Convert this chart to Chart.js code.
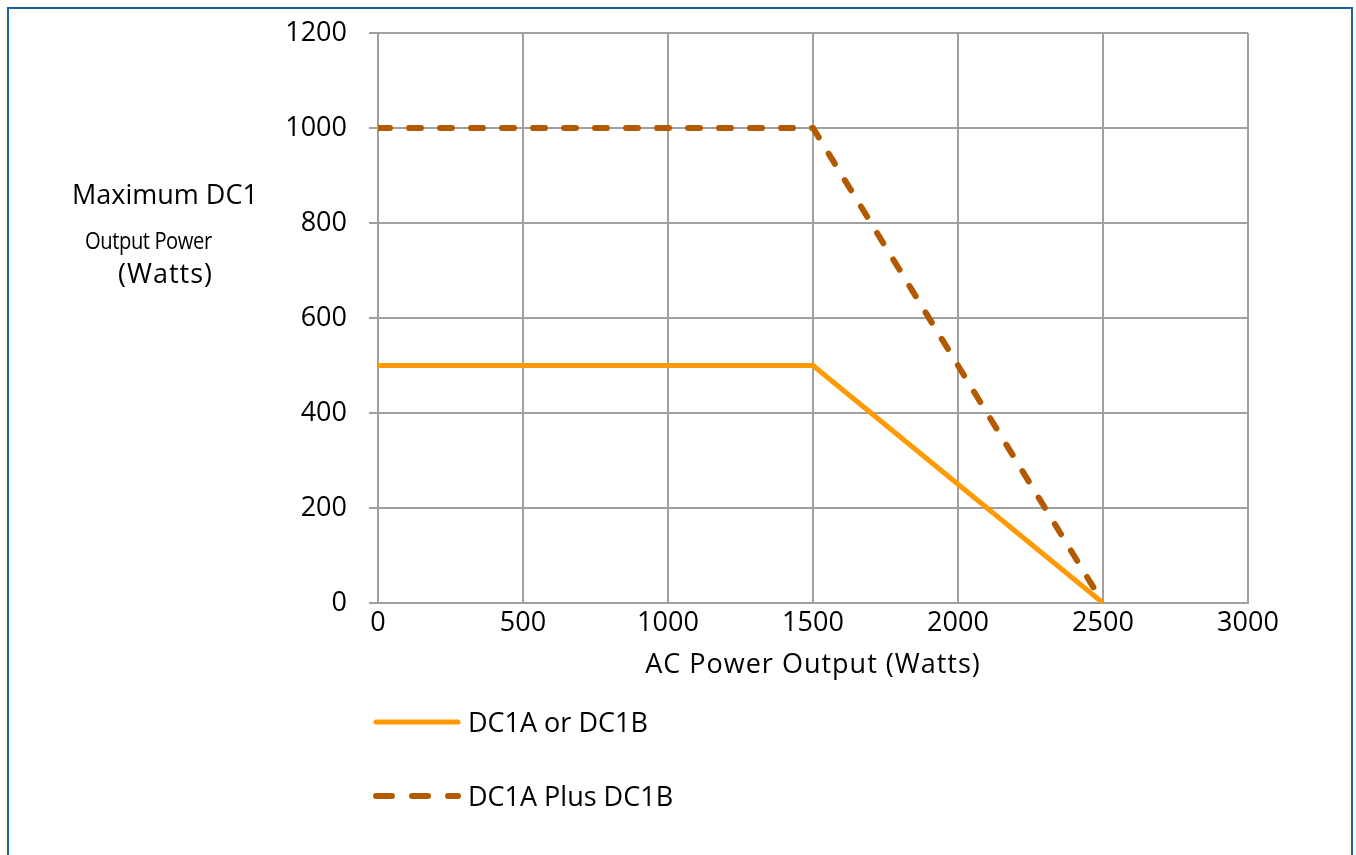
<!DOCTYPE html>
<html>
<head>
<meta charset="utf-8">
<script src="https://cdn.jsdelivr.net/npm/chart.js@4"></script>
<style>
  body { margin: 0; background: #fff; font-family: 'Open Sans', sans-serif; }
  .frame { position: relative; width: 1356px; height: 855px; overflow: hidden; }
  .frame::before { content: ''; position: absolute; left: 7px; top: 7px; width: 1346px; height: 900px;
    border: 2px solid #1f5fa8; box-sizing: border-box; }
  canvas { position: absolute; left: 0; top: 0; }
  .ytitle { position: absolute; color: #000; white-space: nowrap; }
  .legend-item { position: absolute; left: 372px; display: flex; align-items: center; font-size: 27px; color: #000; }
  .legend-item svg { margin-right: 6px; }
</style>
</head>
<body>
<div class="frame">
  <canvas class="chart1" width="1356" height="855"></canvas>
  <div class="ytitle" style="left:72px; top:175px; font-size:27px;">Maximum DC1</div>
  <div class="ytitle" style="left:85px; top:223px; font-size:24px; letter-spacing:-0.5px; transform:scaleX(0.84); transform-origin:left;">Output Power</div>
  <div class="ytitle" style="left:118px; top:254px; font-size:27px; letter-spacing:1px;">(Watts)</div>
  <div class="legend-item" style="top:703px;">
    <svg width="90" height="14"><line x1="4" y1="7" x2="86" y2="7" stroke="#ff9a00" stroke-width="5" stroke-linecap="round"/></svg>
    <span>DC1A or DC1B</span>
  </div>
  <div class="legend-item" style="top:777px;">
    <svg width="90" height="14"><line x1="4" y1="7" x2="86" y2="7" stroke="#b35900" stroke-width="6" stroke-linecap="round" stroke-dasharray="16 20"/></svg>
    <span>DC1A Plus DC1B</span>
  </div>
</div>
<script>
const acPower = [0, 1500, 2500];
const dc1Single = [500, 500, 0];
const dc1Combined = [1000, 1000, 0];
const xTicks = [0, 500, 1000, 1500, 2000, 2500, 3000];
const yTicks = [0, 200, 400, 600, 800, 1000, 1200];

const chart1 = document.querySelector('.chart1');
const gridColor = '#a0a0a0';

const toPoints = (xs, ys) => xs.map((x, i) => ({ x: x, y: ys[i] }));

new Chart(chart1, {
  type: 'scatter',
  data: {
    datasets: [
      {
        label: 'DC1A or DC1B',
        data: toPoints(acPower, dc1Single),
        showLine: true,
        borderColor: '#ff9a00',
        borderWidth: 5,
        pointRadius: 0,
        tension: 0
      },
      {
        label: 'DC1A Plus DC1B',
        data: toPoints(acPower, dc1Combined),
        showLine: true,
        borderColor: '#b35900',
        borderWidth: 6,
        borderDash: [12, 19],
        borderCapStyle: 'round',
        pointRadius: 0,
        tension: 0
      }
    ]
  },
  options: {
    responsive: false,
    animation: false,
    layout: { padding: { left: 0, top: 33, right: 108, bottom: 202 } },
    plugins: {
      legend: { display: false },
      tooltip: { enabled: false }
    },
    scales: {
      x: {
        type: 'linear',
        min: 0,
        max: 3000,
        afterBuildTicks: axis => { axis.ticks = xTicks.map(v => ({ value: v })); },
        afterFit: axis => { axis.height = 50; axis.paddingLeft = 0; axis.paddingRight = 0; },
        ticks: { color: '#000', font: { family: 'Open Sans', size: 27 }, padding: 4, maxRotation: 0, autoSkip: false, callback: v => String(v) },
        grid: { color: gridColor, lineWidth: 2, drawTicks: false },
        border: { color: gridColor, width: 2 }
      },
      y: {
        type: 'linear',
        min: 0,
        max: 1200,
        afterBuildTicks: axis => { axis.ticks = yTicks.map(v => ({ value: v })); },
        afterFit: axis => { axis.width = 378; axis.paddingTop = 0; axis.paddingBottom = 0; },
        ticks: { color: '#000', font: { family: 'Open Sans', size: 27 }, padding: 22, callback: v => String(v) },
        grid: { color: gridColor, lineWidth: 2, tickLength: 9 },
        border: { color: gridColor, width: 2 }
      }
    }
  },
  plugins: [{
    id: 'xTitle',
    afterDraw(chart) {
      const { ctx, chartArea } = chart;
      ctx.save();
      ctx.fillStyle = '#000';
      ctx.font = '27px "Open Sans"';
      ctx.letterSpacing = '1px';
      ctx.textAlign = 'center';
      ctx.textBaseline = 'middle';
      ctx.fillText('AC Power Output (Watts)', (chartArea.left + chartArea.right) / 2, 665);
      ctx.restore();
    }
  }]
});
</script>
</body>
</html>
